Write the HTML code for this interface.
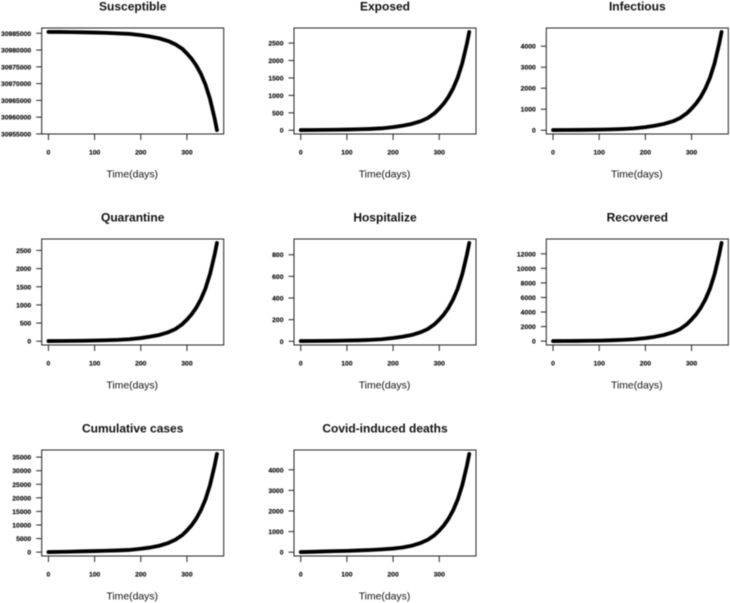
<!DOCTYPE html>
<html lang="en">
<head>
<meta charset="utf-8">
<title>Compartment model projections</title>
<style>
  html, body { margin: 0; padding: 0; background: #fff; }
  #chart { display: block; width: 730px; height: 603px; filter: blur(0.45px); }
  text { font-family: "Liberation Sans", sans-serif; fill: #111; }
  .panel-title { font-size: 12px; font-weight: 700; text-anchor: middle; }
  .axis-title { font-size: 10.4px; text-anchor: middle; }
  .tick-label { font-size: 6.8px; font-weight: 700; stroke: #111; stroke-width: 0.15px; }
</style>
</head>
<body>
<svg id="chart" xmlns="http://www.w3.org/2000/svg" width="730" height="603" viewBox="0 0 730 603"></svg>
<script>
const days = [0, 25, 50, 75, 100, 125, 150, 175, 200, 220, 240, 260, 275, 290, 300, 310, 320, 330, 340, 350, 360, 365];
const xTicks = [0, 100, 200, 300];

const susceptibleValues = [30985400, 30985390, 30985350, 30985290, 30985210, 30985110, 30984980, 30984820, 30984450, 30984050, 30983480, 30982650, 30981700, 30980350, 30978970, 30977420, 30975460, 30972960, 30969750, 30965400, 30959585, 30956150];
const exposedValues = [5, 7, 10, 14, 20, 28, 38, 55, 90, 130, 180, 260, 350, 490, 620, 770, 960, 1200, 1510, 1930, 2490, 2820];
const infectiousValues = [8, 10, 14, 20, 30, 42, 60, 90, 150, 215, 300, 430, 580, 810, 1030, 1280, 1590, 1990, 2505, 3200, 4130, 4680];
const quarantineValues = [4, 6, 9, 13, 19, 27, 37, 54, 87, 125, 172, 250, 335, 470, 595, 740, 920, 1152, 1450, 1852, 2390, 2707];
const hospitalizeValues = [2, 3, 4, 5, 7, 9, 13, 19, 30, 42, 58, 84, 113, 158, 200, 248, 309, 387, 487, 622, 803, 909];
const recoveredValues = [5, 12, 25, 45, 70, 110, 170, 260, 410, 590, 840, 1220, 1650, 2330, 2970, 3685, 4590, 5745, 7230, 9235, 11920, 13500];
const cumulativeValues = [20, 100, 200, 300, 400, 500, 620, 800, 1230, 1680, 2350, 3400, 4580, 6280, 7960, 9880, 12300, 15400, 19375, 24750, 31950, 36180];
const deathValues = [5, 18, 35, 50, 65, 85, 105, 135, 175, 225, 310, 450, 600, 830, 1050, 1302, 1622, 2030, 2555, 3263, 4212, 4770];

const susceptibleTicks = [30955000, 30960000, 30965000, 30970000, 30975000, 30980000, 30985000];
const exposedTicks = [0, 500, 1000, 1500, 2000, 2500];
const infectiousTicks = [0, 1000, 2000, 3000, 4000];
const quarantineTicks = [0, 500, 1000, 1500, 2000, 2500];
const hospitalizeTicks = [0, 200, 400, 600, 800];
const recoveredTicks = [0, 2000, 4000, 6000, 8000, 10000, 12000];
const cumulativeTicks = [0, 5000, 10000, 15000, 20000, 25000, 30000, 35000];
const deathTicks = [0, 1000, 2000, 3000, 4000];

const panelTitles = ["Susceptible", "Exposed", "Infectious", "Quarantine", "Hospitalize", "Recovered", "Cumulative cases", "Covid-induced deaths"];
const panelSeries = [susceptibleValues, exposedValues, infectiousValues, quarantineValues, hospitalizeValues, recoveredValues, cumulativeValues, deathValues];
const panelTicks = [susceptibleTicks, exposedTicks, infectiousTicks, quarantineTicks, hospitalizeTicks, recoveredTicks, cumulativeTicks, deathTicks];

const SVG_NS = "http://www.w3.org/2000/svg";
const svg = document.getElementById("chart");
const columnLefts = [41.7, 294, 546.3];
const rowTops = [28, 239, 450];
const boxWidth = 182;
const boxHeight = 106;
const padFraction = 0.04 / 1.08;

function makeScale(domainMin, domainMax, rangeStart, rangeLength) {
  const pad = rangeLength * padFraction;
  const inner = rangeLength - 2 * pad;
  return function (value) {
    return rangeStart + pad + (value - domainMin) / (domainMax - domainMin) * inner;
  };
}

function slug(text) {
  return text.toLowerCase().replace(/[^a-z0-9]+/g, "-");
}

function drawPanel(index) {
  const left = columnLefts[index % 3];
  const top = rowTops[Math.floor(index / 3)];
  const title = panelTitles[index];
  const values = panelSeries[index];
  const ticks = panelTicks[index];
  const name = slug(title);
  const bottom = top + boxHeight;

  const xScale = makeScale(Math.min.apply(null, days), Math.max.apply(null, days), left, boxWidth);
  const yFlipped = makeScale(Math.min.apply(null, values), Math.max.apply(null, values), 0, boxHeight);
  const yScale = function (value) { return bottom - yFlipped(value); };

  const group = document.createElementNS(SVG_NS, "g");
  
  
  svg.appendChild(group);

  const titleEl = document.createElementNS(SVG_NS, "text");
  
  
  titleEl.setAttribute("class", "panel-title");
  titleEl.setAttribute("x", left + boxWidth / 2);
  titleEl.setAttribute("y", top - 17.5);
  titleEl.textContent = title;
  group.appendChild(titleEl);

  const box = document.createElementNS(SVG_NS, "rect");
  
  
  box.setAttribute("x", left);
  box.setAttribute("y", top);
  box.setAttribute("width", boxWidth);
  box.setAttribute("height", boxHeight);
  box.setAttribute("fill", "none");
  box.setAttribute("stroke", "#222");
  box.setAttribute("stroke-width", "1");
  group.appendChild(box);

  xTicks.forEach(function (tick) {
    const px = xScale(tick);
    const mark = document.createElementNS(SVG_NS, "line");
    
    
    mark.setAttribute("x1", px);
    mark.setAttribute("x2", px);
    mark.setAttribute("y1", bottom);
    mark.setAttribute("y2", bottom + 6);
    mark.setAttribute("stroke", "#222");
    mark.setAttribute("stroke-width", "1");
    group.appendChild(mark);

    const label = document.createElementNS(SVG_NS, "text");
    
    
    label.setAttribute("class", "tick-label");
    label.setAttribute("x", px);
    label.setAttribute("y", bottom + 20.5);
    label.setAttribute("text-anchor", "middle");
    label.textContent = tick;
    group.appendChild(label);
  });

  ticks.forEach(function (tick) {
    const py = yScale(tick);
    const mark = document.createElementNS(SVG_NS, "line");
    
    
    mark.setAttribute("x1", left - 5.5);
    mark.setAttribute("x2", left);
    mark.setAttribute("y1", py);
    mark.setAttribute("y2", py);
    mark.setAttribute("stroke", "#222");
    mark.setAttribute("stroke-width", "1");
    group.appendChild(mark);

    const label = document.createElementNS(SVG_NS, "text");
    
    
    label.setAttribute("class", "tick-label");
    label.setAttribute("x", left - 10.5);
    label.setAttribute("y", py + 2.5);
    label.setAttribute("text-anchor", "end");
    label.textContent = tick;
    group.appendChild(label);
  });

  const axisTitle = document.createElementNS(SVG_NS, "text");
  
  
  axisTitle.setAttribute("class", "axis-title");
  axisTitle.setAttribute("x", left + boxWidth / 2 - 0.5);
  axisTitle.setAttribute("y", bottom + 43.5);
  axisTitle.textContent = "Time(days)";
  group.appendChild(axisTitle);

  const points = days.map(function (day, i) {
    return xScale(day).toFixed(2) + "," + yScale(values[i]).toFixed(2);
  }).join(" ");
  const line = document.createElementNS(SVG_NS, "polyline");
  
  
  line.setAttribute("points", points);
  line.setAttribute("fill", "none");
  line.setAttribute("stroke", "#000");
  line.setAttribute("stroke-width", "3.8");
  line.setAttribute("stroke-linejoin", "round");
  line.setAttribute("stroke-linecap", "round");
  group.appendChild(line);
}

panelTitles.forEach(function (title, index) {
  drawPanel(index);
});
</script>
</body>
</html>
